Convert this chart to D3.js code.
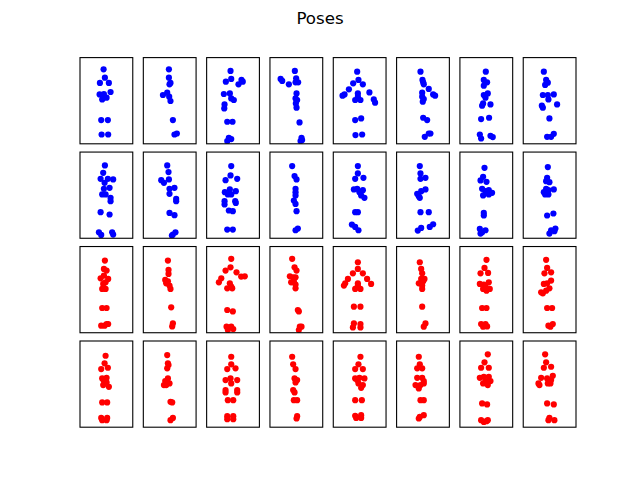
<!DOCTYPE html>
<html><head><meta charset="utf-8">
<script src="https://cdn.jsdelivr.net/npm/d3@7"></script>
<style>body{margin:0;background:#fff}svg{display:block}</style>
</head><body>
<script>
const title = "Poses";
const rowColors = ["#0000ff", "#0000ff", "#ff0000", "#ff0000"];
const xDomain = [0, 53];
const yDomain = [0, 86];

const poses = [
 // row 1 (blue)
 [[23.7,11.7],[25,20],[20,25.3],[29,25.3],[19.7,36.7],[24,36.3],[30.7,34.3],[22.3,41.7],[26.7,40],[24,39],[21.3,62.3],[28,62.3],[21.7,76.7],[28.3,76.7]],
 [[25.7,11.7],[25.7,20],[27.3,25.3],[26.3,26.7],[19.7,37.3],[24,35],[26,39],[27.3,43.3],[29.7,62.3],[31.3,76.7],[33.7,75.7]],
 [[24,13.3],[19.3,24],[24.7,21.3],[35,22.3],[32,26.7],[36.3,24],[17.3,36.3],[23.3,35.7],[24.7,40.7],[27.3,42.3],[18,46.7],[17.7,50.7],[20.7,64],[26,64],[22.3,80],[24.7,81.3],[20.7,83.3]],
 [[25,13.3],[10.7,21.3],[12.3,23.3],[19,26.7],[26.3,20.7],[25.7,24.7],[28.3,24.7],[26.7,35.7],[25.7,40.7],[27.3,42.3],[26,45.7],[26.7,50],[29.7,64.7],[31.7,80],[30.7,83.3],[32.3,82.3]],
 [[24,14],[25.3,22.3],[20,25.7],[29.7,26.7],[15.7,31.7],[11.3,36.7],[9.3,38],[24.7,35.7],[22,42.3],[27.3,42.3],[24.7,39],[36.3,34.7],[40.7,41.7],[42,45],[22,62.3],[28,60.7],[22.3,77.3],[29,76.7]],
 [[24,14],[26,22.3],[27.3,26.7],[26.7,24.7],[32.3,31.3],[36.7,36.7],[38.7,38],[25.7,35],[25.7,39],[26.3,44],[27.3,41.3],[26.7,60],[30.7,62.3],[28.3,79],[32.3,75.7],[34,75.7]],
 [[26,14],[24,22.3],[27.3,24.7],[24,28],[24,37.3],[28,35.7],[25.7,40],[22.3,48],[23.3,45.7],[30.7,46.7],[21.3,61.3],[29.3,60],[20,76.7],[21.3,80.7],[30.7,78],[33,79.3]],
 [[20.7,14],[23,22.3],[22,27.3],[24.7,25],[19.7,37.3],[24.7,37.3],[30.7,36.7],[25.3,41.7],[34,46.7],[18.7,48],[19.7,50],[26.3,60.7],[24,79],[28,79],[30.7,76]],
 // row 2 (blue)
 [[25,13.3],[23.3,20.7],[20.7,26.7],[24.7,30.7],[28,26.7],[33.3,27.3],[24,36.7],[29.7,35.7],[22.3,42.3],[25.7,42.3],[30.7,45.7],[30.7,49],[20.7,60],[29.7,62.3],[19,80],[21.3,82.7],[32.3,80],[33.3,82.3]],
 [[24,13.3],[25.3,20],[18,28],[20.7,30.7],[25.7,27.3],[26.3,36.7],[31.3,35.7],[26.3,41.7],[33,46.7],[33,49],[26.3,60.7],[31.3,63],[32.3,80],[29.7,82.3],[28.7,83.3]],
 [[24.7,14],[24,23.3],[19,28],[30.7,26.7],[18.3,40],[23.3,37.3],[24.7,42.3],[29.3,39],[21.3,42.3],[18,49],[18,52.3],[28.7,49],[29.3,50.7],[22.3,58.3],[26.3,59],[20.7,77.3],[26.3,77.3]],
 [[22.3,14],[24.7,24],[26.7,27.3],[25.7,36.7],[25.7,40],[25.7,43.3],[24,48.3],[25.7,51.7],[26.7,59],[25.7,78],[28,76.3]],
 [[24.7,14],[24.7,21.3],[22,26.7],[30.3,25.7],[20.7,37.3],[24,36.7],[26.3,40],[29.7,38],[31.3,45.7],[28,43.3],[22,60],[24.7,60],[18.7,72.3],[22,74.7],[25.3,78]],
 [[23.3,14],[24,21.3],[29,25.7],[24,26.7],[20.7,41.7],[22.3,44],[24.7,39],[29,37.3],[23.3,45.7],[24,60],[32.3,60],[21.3,78.3],[24.7,75.7],[33.3,74.7],[36.7,72]],
 [[24.7,15.7],[23.3,24.7],[20.7,28.3],[26.7,29.7],[22.3,36.7],[25.7,39],[29,38],[32.3,40.7],[23.3,43.3],[29,42.3],[24,60.7],[24,63.3],[20,76.7],[22.3,80],[25.7,78],[20.7,81.3]],
 [[24.7,15],[24,25.7],[26.3,30],[23,29],[20.7,40],[23,36.7],[25.3,38],[30.7,37.3],[22,42.3],[25.3,42.3],[24,63.3],[30.3,61.3],[26.3,81.3],[28,78],[32.3,76.3],[31.3,79]],
 // row 3 (red)
 [[25,14],[24,22.3],[26.7,24],[20.7,31.7],[28.3,32.3],[24,29],[23.3,37.3],[25.7,35.7],[22.3,42.3],[25.7,42.3],[22.3,61.3],[26.7,61.3],[21.3,79],[26.7,77.3],[28.3,77.3],[24.7,79]],
 [[24.7,14],[25.3,23.3],[25.3,27.3],[22,33.3],[23,36.7],[24.7,34.7],[26.3,39],[27.3,42.3],[28,60.7],[29.7,76.7],[29,79.7]],
 [[24.7,12.3],[24,20.7],[19,24],[30,25.7],[14.7,31.7],[12.3,35.7],[34.7,30],[38.3,29.7],[23.3,36.7],[20.7,41.7],[25.7,41.7],[24.7,40],[20.7,63.3],[26.3,64.7],[20,80],[24.7,80],[26.7,82.3],[21.3,83.3]],
 [[22.3,12.3],[24.7,20.7],[26.7,24],[20,29.7],[23.3,30.7],[25.7,30.7],[21.3,35.7],[24,34.7],[25.7,38],[25.7,41.7],[28,63.3],[29,64.7],[30,80],[31.7,80],[29,83.3]],
 [[24.7,15.7],[24.7,22.3],[19.7,26.7],[29.7,26.7],[14.7,32.3],[12,36.7],[10.7,39],[34,32.3],[38,37.3],[24.7,36.7],[22,42.3],[27.3,42.3],[24.7,39],[20.7,60],[27.3,60],[20.7,76.7],[27.3,77.3],[19.7,80.7],[27.3,80.7]],
 [[23.3,15.7],[24.7,22.3],[25.7,26.7],[24.7,32.3],[28,32.3],[22.3,36.7],[26.7,34.7],[25.7,39],[25.7,42.3],[25.7,60],[29,76.7],[27.3,80]],
 [[26.7,13.3],[24.7,21.3],[20.7,26.7],[28.3,26.3],[20,37.3],[24,38],[29,35.7],[23.3,42.3],[26.7,44],[30,42.3],[25.7,40],[22.3,61.3],[26.7,61.3],[21.3,77.3],[25.7,77.3],[27.3,79.7],[23.3,80]],
 [[23,13.3],[24,21.3],[21.3,26.7],[28,25.7],[20.7,37.3],[24,36.7],[28,34],[26.3,41.7],[19.7,46.7],[23,44],[18,45.7],[24,61.3],[29,61.3],[25.3,79],[29.7,77.3],[27.3,80]],
 // row 4 (red)
 [[25.7,14.7],[24.7,22.3],[21.3,28],[28,26.7],[22.3,37.3],[26.7,36.7],[24,40],[29,45.7],[23.3,44],[26.7,41.3],[22.3,61.3],[27.3,61.3],[21.3,76.7],[27.3,76.7],[22.3,79],[26.7,79]],
 [[24,14],[24.7,22.3],[25.3,24],[24,27.3],[24.7,37.3],[22,40],[20.7,44],[23,44],[26.3,42.3],[27.3,60.7],[29,61.3],[29.7,76.7],[27.3,79]],
 [[24.7,15.7],[24.7,23.3],[20.7,28],[29,27.3],[19,39],[24,37.3],[24.7,42.3],[30.7,39],[19,49],[19,51.3],[30.7,49],[30.7,51.3],[21.3,59],[26.7,59],[20.7,75],[26.7,75],[20.7,78],[26.7,78]],
 [[22.3,15.7],[23.3,23.3],[25.7,28],[24.7,37.3],[27.3,39],[25.7,41.3],[23.3,49],[24.7,51.3],[24,59],[27.3,59],[27.3,75],[26.7,77.3]],
 [[27.3,15.7],[25.3,23.3],[22,28],[29.7,28],[22,37.3],[26.3,36.7],[31.3,37.3],[25.3,42.3],[28,46.7],[29.7,44],[24,39],[22,59],[28.7,59],[22,74.7],[28,74],[23,76.7],[28,76.7]],
 [[22.3,15.7],[23.3,23.3],[20.7,27.3],[25.7,27.3],[20.7,36.7],[25.7,36.7],[27.3,40],[19,44],[24,44],[27.3,42.3],[22.3,47.3],[24,59],[27.3,59],[23.3,75.7],[27.3,74],[22.3,77.3]],
 [[28,13.3],[24.7,21.3],[21.3,26.7],[29,26.7],[20,36.7],[24,35.7],[29,35.7],[23.3,42.3],[28,44],[30.7,40],[25.7,40],[22.3,62.3],[27.3,63.3],[21.3,79],[26.7,80],[24,80.7],[28,79]],
 [[22,13.3],[23,21.3],[20.7,26.7],[28,25.7],[18,36.7],[16.3,44],[15.3,42.3],[24,37.3],[24.7,42.3],[29.7,34.7],[28,39],[27.3,42.3],[24,62.3],[30.7,63.3],[25.3,79],[31.3,79],[26.3,76.7]]
];

const W = 640, H = 480, nRows = 4, nCols = 8;
const gridLeft = 80, gridRight = 576, gridTop = 57.6, gridBottom = 427.2;
const cw = (gridRight - gridLeft) / (nCols + (nCols - 1) * 0.2);
const cp = cw * 1.2;
const ch = 86.2;
const rp = (gridBottom - gridTop - ch) / (nRows - 1);

const sx = d3.scaleLinear().domain(xDomain).range([0, cw]);
const sy = d3.scaleLinear().domain(yDomain).range([0, ch]);

const svg = d3.select("body").append("svg").attr("width", W).attr("height", H);
svg.append("rect").attr("width", W).attr("height", H).attr("fill", "#fff");
svg.append("text").attr("x", 320).attr("y", 24).attr("text-anchor", "middle")
  .attr("font-family", "DejaVu Sans, sans-serif").attr("font-size", 16.67).attr("fill", "#000").text(title);

const defs = svg.append("defs");
defs.append("clipPath").attr("id", "pc").append("rect").attr("width", cw).attr("height", ch);

poses.forEach((pts, i) => {
  const r = Math.floor(i / nCols), c = i % nCols;
  const g = svg.append("g").attr("transform", `translate(${gridLeft + c * cp},${gridTop + r * rp})`);
  g.append("g").attr("clip-path", "url(#pc)").selectAll("circle").data(pts).join("circle")
    .attr("cx", d => sx(d[0])).attr("cy", d => sy(d[1])).attr("r", 3.1)
    .attr("fill", rowColors[r]);
  g.append("rect").attr("width", cw).attr("height", ch).attr("fill", "none")
    .attr("stroke", "#000").attr("stroke-width", 1.1);
});
</script>
</body></html>
